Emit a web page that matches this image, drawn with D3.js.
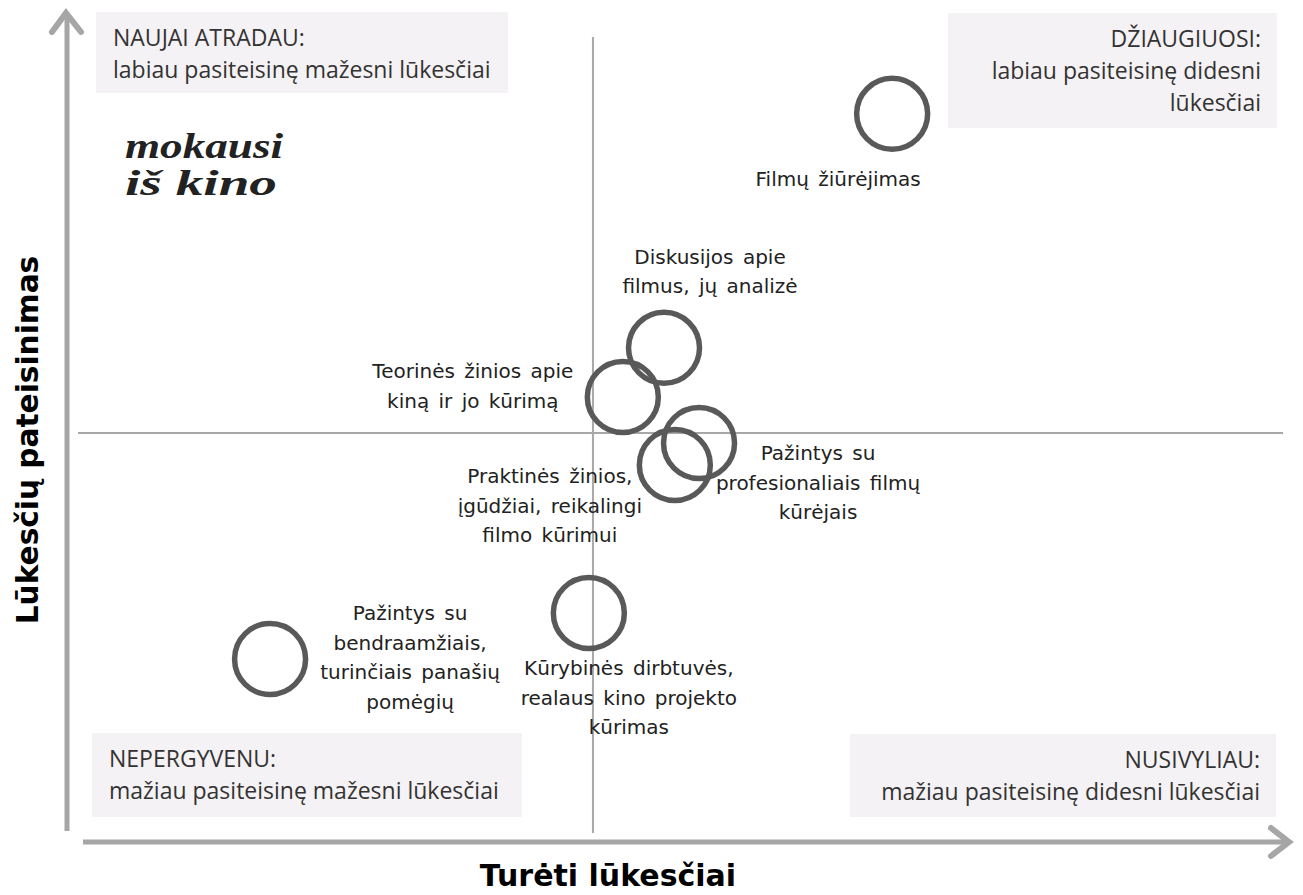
<!DOCTYPE html>
<html>
<head>
<meta charset="utf-8">
<script src="https://d3js.org/d3.v7.min.js"></script>
<style>
  body { margin: 0; background: #fff; }
</style>
</head>
<body>
<svg id="chart" width="1303" height="895"></svg>
<script>
// activities (bubble labels, one entry per line)
const activities = [
  ["Filmų žiūrėjimas"],
  ["Diskusijos apie", "filmus, jų analizė"],
  ["Teorinės žinios apie", "kiną ir jo kūrimą"],
  ["Pažintys su", "profesionaliais filmų", "kūrėjais"],
  ["Praktinės žinios,", "įgūdžiai, reikalingi", "filmo kūrimui"],
  ["Kūrybinės dirbtuvės,", "realaus kino projekto", "kūrimas"],
  ["Pažintys su", "bendraamžiais,", "turinčiais panašių", "pomėgių"]
];
// x: turėti lūkesčiai (0 = vidurkis), y: lūkesčių pateisinimas (0 = vidurkis)
const expectations = [0.581, 0.138, 0.058, 0.206, 0.159, -0.008, -0.627];
const fulfilment   = [0.798, 0.213, 0.090, -0.025, -0.080, -0.450, -0.565];

// label placement relative to the bubble centre
const labelOffset = [
  [-54, 72], [46, -84], [-150, -19], [119, 17], [-125, 18], [40, 62], [140, -39]
];

const quadrants = [
  {title: "NAUJAI ATRADAU:", lines: ["labiau pasiteisinę mažesni lūkesčiai"], side: "left", x: 96, y: 12, w: 412, h: 81},
  {title: "DŽIAUGIUOSI:", lines: ["labiau pasiteisinę didesni", "lūkesčiai"], side: "right", x: 948, y: 13, w: 329, h: 115},
  {title: "NEPERGYVENU:", lines: ["mažiau pasiteisinę mažesni lūkesčiai"], side: "left", x: 92, y: 733, w: 430, h: 84},
  {title: "NUSIVYLIAU:", lines: ["mažiau pasiteisinę didesni lūkesčiai"], side: "right", x: 850, y: 734, w: 426, h: 83}
];

const xTitle = "Turėti lūkesčiai";
const yTitle = "Lūkesčių pateisinimas";

const svg = d3.select("#chart");

const x = d3.scaleLinear().domain([-1, 1.34]).range([78, 1283]);
const y = d3.scaleLinear().domain([-1, 1]).range([833, 33]);

const defs = svg.append("defs");
defs.append("filter").attr("id", "blur")
  .append("feGaussianBlur").attr("stdDeviation", 1.6);

// quadrant labels
const q = svg.append("g").selectAll("g").data(quadrants).join("g");
q.append("rect")
  .attr("x", d => d.x).attr("y", d => d.y)
  .attr("width", d => d.w).attr("height", d => d.h)
  .attr("fill", "#f5f2f5");
q.append("text")
  .attr("font-family", "'Open Sans', sans-serif")
  .attr("font-size", 23)
  .attr("fill", "#333")
  .attr("text-anchor", d => d.side === "left" ? "start" : "end")
  .selectAll("tspan")
  .data(d => [d.title, ...d.lines].map((t, i) => ({t, i, d})))
  .join("tspan")
    .attr("x", o => o.d.side === "left" ? o.d.x + 17 : o.d.x + o.d.w - 16)
    .attr("y", o => o.d.y + 34 + o.i * 32)
    .text(o => o.t);

// logo
const logo = svg.append("g")
  .attr("font-family", "'Liberation Serif', serif")
  .attr("font-style", "italic")
  .attr("font-weight", "bold")
  .attr("font-size", 36)
  .attr("fill", "#222");
logo.append("text").attr("x", 125).attr("y", 158)
  .attr("textLength", 158).attr("lengthAdjust", "spacingAndGlyphs").text("mokausi");
logo.append("text").attr("x", 125).attr("y", 195)
  .attr("textLength", 152).attr("lengthAdjust", "spacingAndGlyphs").text("iš kino");

// quadrant dividers
svg.append("line")
  .attr("x1", x(0)).attr("x2", x(0))
  .attr("y1", y(-1)).attr("y2", y(0.99))
  .attr("stroke", "#a8a8a8").attr("stroke-width", 2);
svg.append("line")
  .attr("x1", x(-1)).attr("x2", x(1.34))
  .attr("y1", y(0)).attr("y2", y(0))
  .attr("stroke", "#a8a8a8").attr("stroke-width", 2);

// axis arrows with soft shadow
const axisColor = "#a6a6a6";
const arrows = svg.append("g");
arrows.append("line")
  .attr("x1", 62).attr("x2", 62).attr("y1", 830).attr("y2", 16)
  .attr("stroke", "#d4d4d4").attr("stroke-width", 6).attr("filter", "url(#blur)");
arrows.append("line")
  .attr("x1", 85).attr("x2", 1286).attr("y1", 848).attr("y2", 848)
  .attr("stroke", "#d4d4d4").attr("stroke-width", 6).attr("filter", "url(#blur)");
arrows.append("line")
  .attr("x1", 67).attr("x2", 67).attr("y1", 831).attr("y2", 13)
  .attr("stroke", axisColor).attr("stroke-width", 5);
arrows.append("polyline")
  .attr("points", "52,32 66,13 81,32")
  .attr("fill", "none").attr("stroke", axisColor).attr("stroke-width", 6)
  .attr("stroke-linecap", "round");
arrows.append("line")
  .attr("x1", 83).attr("x2", 1289).attr("y1", 842).attr("y2", 842)
  .attr("stroke", axisColor).attr("stroke-width", 5);
arrows.append("polyline")
  .attr("points", "1271,828 1289,842 1271,856")
  .attr("fill", "none").attr("stroke", axisColor).attr("stroke-width", 6)
  .attr("stroke-linecap", "round");

// axis titles
svg.append("text")
  .attr("x", 608).attr("y", 886)
  .attr("text-anchor", "middle")
  .attr("font-family", "'DejaVu Sans', sans-serif")
  .attr("font-weight", "bold").attr("font-size", 30)
  .attr("fill", "#000")
  .text(xTitle);
svg.append("text")
  .attr("transform", "translate(38,440) rotate(-90)")
  .attr("text-anchor", "middle")
  .attr("font-family", "'DejaVu Sans', sans-serif")
  .attr("font-weight", "bold").attr("font-size", 29.6)
  .attr("fill", "#000")
  .text(yTitle);

// bubbles
const pts = activities.map((lines, i) => ({
  lines, cx: x(expectations[i]), cy: y(fulfilment[i]),
  dx: labelOffset[i][0], dy: labelOffset[i][1]
}));

svg.append("g").selectAll("circle").data(pts).join("circle")
  .attr("cx", d => d.cx).attr("cy", d => d.cy)
  .attr("r", 35.5)
  .attr("fill", "none")
  .attr("stroke", "#595959")
  .attr("stroke-width", 5.5);

svg.append("g").selectAll("text").data(pts).join("text")
  .attr("text-anchor", "middle")
  .attr("font-family", "'DejaVu Sans', sans-serif")
  .attr("font-size", 20)
  .attr("word-spacing", 3)
  .attr("fill", "#222")
  .selectAll("tspan")
  .data(d => d.lines.map((t, i) => ({t, i, d})))
  .join("tspan")
    .attr("x", o => o.d.cx + o.d.dx)
    .attr("y", o => o.d.cy + o.d.dy + o.i * 29.5)
    .text(o => o.t);
</script>
</body>
</html>
